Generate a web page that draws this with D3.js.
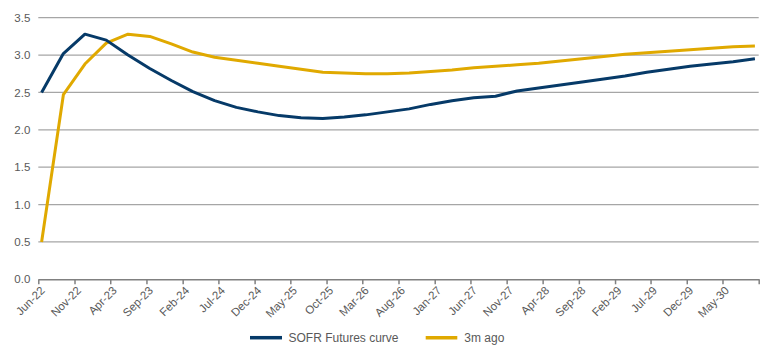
<!DOCTYPE html>
<html>
<head>
<meta charset="utf-8">
<script src="https://cdn.jsdelivr.net/npm/d3@7/dist/d3.min.js"></script>
<style>
  html, body { margin: 0; padding: 0; background: #fff; }
  svg { display: block; font-family: "Liberation Sans", Arial, sans-serif; }
</style>
</head>
<body>
<svg id="chart" width="770" height="358"></svg>
<script>
// Quarterly contract dates (mid-month)
const dates = [
  "2022-06-15","2022-09-15","2022-12-15",
  "2023-03-15","2023-06-15","2023-09-15","2023-12-15",
  "2024-03-15","2024-06-15","2024-09-15","2024-12-15",
  "2025-03-15","2025-06-15","2025-09-15","2025-12-15",
  "2026-03-15","2026-06-15","2026-09-15","2026-12-15",
  "2027-03-15","2027-06-15","2027-09-15","2027-12-15",
  "2028-03-15","2028-06-15","2028-09-15","2028-12-15",
  "2029-03-15","2029-06-15","2029-09-15","2029-12-15",
  "2030-03-15","2030-06-15","2030-09-15"
];
const sofrCurve = [
  2.50, 3.02, 3.28,
  3.20, 3.00, 2.82, 2.66,
  2.51, 2.39, 2.30, 2.24,
  2.19, 2.16, 2.15, 2.17,
  2.20, 2.24, 2.28, 2.34,
  2.39, 2.43, 2.45, 2.52,
  2.56, 2.60, 2.64, 2.68,
  2.72, 2.77, 2.81, 2.85,
  2.88, 2.91, 2.95
];
const threeMonthsAgo = [
  0.50, 2.47, 2.88,
  3.16, 3.28, 3.25, 3.15,
  3.04, 2.97, 2.93, 2.89,
  2.85, 2.81, 2.77, 2.76,
  2.75, 2.75, 2.76, 2.78,
  2.80, 2.83, 2.85, 2.87,
  2.89, 2.92, 2.95, 2.98,
  3.01, 3.03, 3.05, 3.07,
  3.09, 3.11, 3.12
];
const xTickLabels = ["Jun-22","Nov-22","Apr-23","Sep-23","Feb-24","Jul-24","Dec-24","May-25","Oct-25","Mar-26","Aug-26","Jan-27","Jun-27","Nov-27","Apr-28","Sep-28","Feb-29","Jul-29","Dec-29","May-30"];
const yTicks = [0.0, 0.5, 1.0, 1.5, 2.0, 2.5, 3.0, 3.5];
const seriesNames = ["SOFR Futures curve", "3m ago"];
const seriesColors = ["#063a68", "#e0a900"];

const svg = d3.select("#chart");
const margin = { left: 38.3, right: 770 - 758.7, top: 17.7, bottom: 358 - 279.3 };
const W = 770, H = 358;

const parseDate = d3.utcParse("%Y-%m-%d");
const parseTick = d3.utcParse("%b-%y");
const xDomainStart = parseTick("Jun-22");
const xDomainEnd = d3.utcMonth.offset(parseTick("May-30"), 5);

const x = d3.scaleUtc().domain([xDomainStart, xDomainEnd]).range([margin.left, W - margin.right]);
const y = d3.scaleLinear().domain([0, 3.5]).range([H - margin.bottom, margin.top]);

// gridlines
svg.append("g")
  .selectAll("line")
  .data(yTicks.filter(v => v > 0))
  .join("line")
  .attr("x1", margin.left).attr("x2", W - margin.right)
  .attr("y1", d => y(d)).attr("y2", d => y(d))
  .attr("stroke", "#a6a6a6").attr("stroke-width", 1.2);

// y labels
const yAxis = d3.axisLeft(y).tickValues(yTicks).tickFormat(d3.format(".1f")).tickSize(0).tickPadding(8);
const gy = svg.append("g").attr("transform", `translate(${margin.left},0)`).call(yAxis);
gy.select(".domain").remove();
gy.selectAll("text").attr("fill", "#595959").style("font-size", "11.5px").style("font-family", "'Liberation Sans', Arial, sans-serif");

// x axis
const tickDates = xTickLabels.map(parseTick).concat([xDomainEnd]);
const xAxis = d3.axisBottom(x).tickValues(tickDates)
  .tickFormat((d, i) => i < xTickLabels.length ? xTickLabels[i] : "")
  .tickSize(5).tickSizeOuter(0);
const gx = svg.append("g").attr("transform", `translate(0,${y(0)})`).call(xAxis);
gx.select(".domain").attr("stroke", "#808080").attr("stroke-width", 1.5);
gx.selectAll(".tick line").attr("stroke", "#808080").attr("stroke-width", 1.5);
gx.selectAll("text")
  .attr("fill", "#595959")
  .style("font-size", "11.5px")
  .style("font-family", "'Liberation Sans', Arial, sans-serif")
  .attr("text-anchor", "end")
  .attr("dy", "0.35em")
  .attr("transform", "translate(4,9) rotate(-45)")
  .attr("x", 0).attr("y", 0);

// lines
const allSeries = [sofrCurve, threeMonthsAgo];
const line = d3.line()
  .x((d, i) => x(parseDate(dates[i])))
  .y(d => y(d))
  .curve(d3.curveLinear);

[1, 0].forEach(k => {
  svg.append("path")
    .datum(allSeries[k])
    .attr("fill", "none")
    .attr("stroke", seriesColors[k])
    .attr("stroke-width", 3)
    .attr("stroke-linejoin", "round")
    .attr("d", line);
});

// legend
const legendItems = [
  { x1: 250, x2: 282, tx: 288.5 },
  { x1: 425.7, x2: 457.3, tx: 464.3 }
];
const lg = svg.append("g");
seriesNames.forEach((name, k) => {
  const it = legendItems[k];
  lg.append("line")
    .attr("x1", it.x1).attr("x2", it.x2)
    .attr("y1", 337.7).attr("y2", 337.7)
    .attr("stroke", seriesColors[k]).attr("stroke-width", 3.5);
  lg.append("text")
    .attr("x", it.tx).attr("y", 337.7)
    .attr("dy", "0.35em")
    .attr("fill", "#595959")
    .style("font-size", "12px")
    .text(name);
});
</script>
</body>
</html>
